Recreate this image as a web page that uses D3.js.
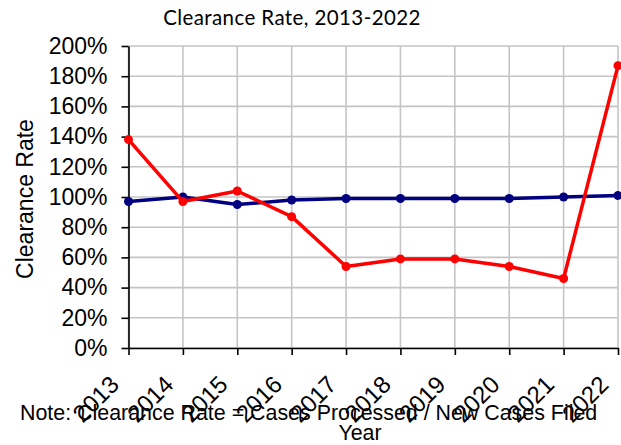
<!DOCTYPE html>
<html>
<head>
<meta charset="utf-8">
<script src="https://cdn.jsdelivr.net/npm/d3@7"></script>
<style>
  body { margin: 0; background: #fff; }
  svg { display: block; }
</style>
</head>
<body>
<script>
// data
var years = ["2013","2014","2015","2016","2017","2018","2019","2020","2021","2022"];
var blueRates = [97, 100, 95, 98, 99, 99, 99, 99, 100, 101];
var redRates = [138, 97, 104, 87, 54, 59, 59, 54, 46, 187];
var yTicks = [0, 20, 40, 60, 80, 100, 120, 140, 160, 180, 200];

var W = 621, H = 445;
var margin = {top: 46, right: 3, bottom: 97, left: 128.5};

var svg = d3.select("body")
  .append("svg")
    .attr("width", W)
    .attr("height", H);

var x = d3.scalePoint()
  .domain(years)
  .range([margin.left, W - margin.right]);

var y = d3.scaleLinear()
  .domain([0, 200])
  .range([H - margin.bottom, margin.top]);

// gridlines
svg.append("g")
  .selectAll("line")
  .data(yTicks)
  .enter().append("line")
    .attr("x1", margin.left)
    .attr("x2", W - margin.right)
    .attr("y1", function(d) { return y(d); })
    .attr("y2", function(d) { return y(d); })
    .attr("stroke", "#c4c4c4")
    .attr("stroke-width", 1.6);

svg.append("g")
  .selectAll("line")
  .data(years)
  .enter().append("line")
    .attr("x1", function(d) { return x(d); })
    .attr("x2", function(d) { return x(d); })
    .attr("y1", y(0))
    .attr("y2", y(200))
    .attr("stroke", "#c4c4c4")
    .attr("stroke-width", 1.6);

// y axis
var yAxis = svg.append("g")
  .attr("transform", "translate(" + margin.left + ",0)")
  .call(d3.axisLeft(y).tickValues(yTicks).tickFormat(function(d) { return d + "%"; })
    .tickSizeInner(7).tickSizeOuter(0).tickPadding(14));
yAxis.selectAll("line, path").attr("stroke", "#000").attr("stroke-width", 1.6);
yAxis.selectAll("text")
  .style("font", "23px 'Liberation Sans', Arial, sans-serif")
  .attr("fill", "#000");

// x axis
var xAxis = svg.append("g")
  .attr("transform", "translate(0," + y(0) + ")")
  .call(d3.axisBottom(x).tickSizeInner(7).tickSizeOuter(0).tickFormat(""));
xAxis.selectAll("line, path").attr("stroke", "#000").attr("stroke-width", 1.6);

// rotated year labels, end of text sits below-left of the tick
svg.append("g")
  .selectAll("text")
  .data(years)
  .enter().append("text")
    .attr("transform", function(d) { return "translate(" + (x(d) - 8) + "," + (y(0) + 38) + ")rotate(-45)"; })
    .attr("text-anchor", "end")
    .style("font", "24px 'Liberation Sans', Arial, sans-serif")
    .text(function(d) { return d; });

// lines
var line = function(vals) {
  return d3.line()
    .x(function(d, i) { return x(years[i]); })
    .y(function(d) { return y(d); })(vals);
};

function drawSeries(vals, color) {
  svg.append("path")
    .attr("d", line(vals))
    .attr("fill", "none")
    .attr("stroke", color)
    .attr("stroke-width", 3.5)
    .attr("stroke-linejoin", "round");
  svg.append("g")
    .selectAll("circle")
    .data(vals)
    .enter().append("circle")
      .attr("cx", function(d, i) { return x(years[i]); })
      .attr("cy", function(d) { return y(d); })
      .attr("r", 4.5)
      .attr("fill", color);
}
drawSeries(blueRates, "#000080");
drawSeries(redRates, "#ff0000");

// title
svg.append("text")
  .attr("x", 292)
  .attr("y", 25)
  .attr("text-anchor", "middle")
  .style("font", "20.5px Lato, 'Open Sans', sans-serif")
  .style("letter-spacing", "0.4px")
  .text("Clearance Rate, 2013-2022");

// y axis title
svg.append("text")
  .attr("transform", "translate(33,199)rotate(-90)")
  .attr("text-anchor", "middle")
  .style("font", "23px 'Liberation Sans', Arial, sans-serif")
  .text("Clearance Rate");

// note and x title
svg.append("text")
  .attr("x", 20)
  .attr("y", 420)
  .style("font", "21.4px 'Liberation Sans', Arial, sans-serif")
  .text("Note: Clearance Rate = Cases Processed / New Cases Filed");

svg.append("text")
  .attr("x", 360)
  .attr("y", 440)
  .attr("text-anchor", "middle")
  .style("font", "21.4px 'Liberation Sans', Arial, sans-serif")
  .text("Year");
</script>
</body>
</html>
